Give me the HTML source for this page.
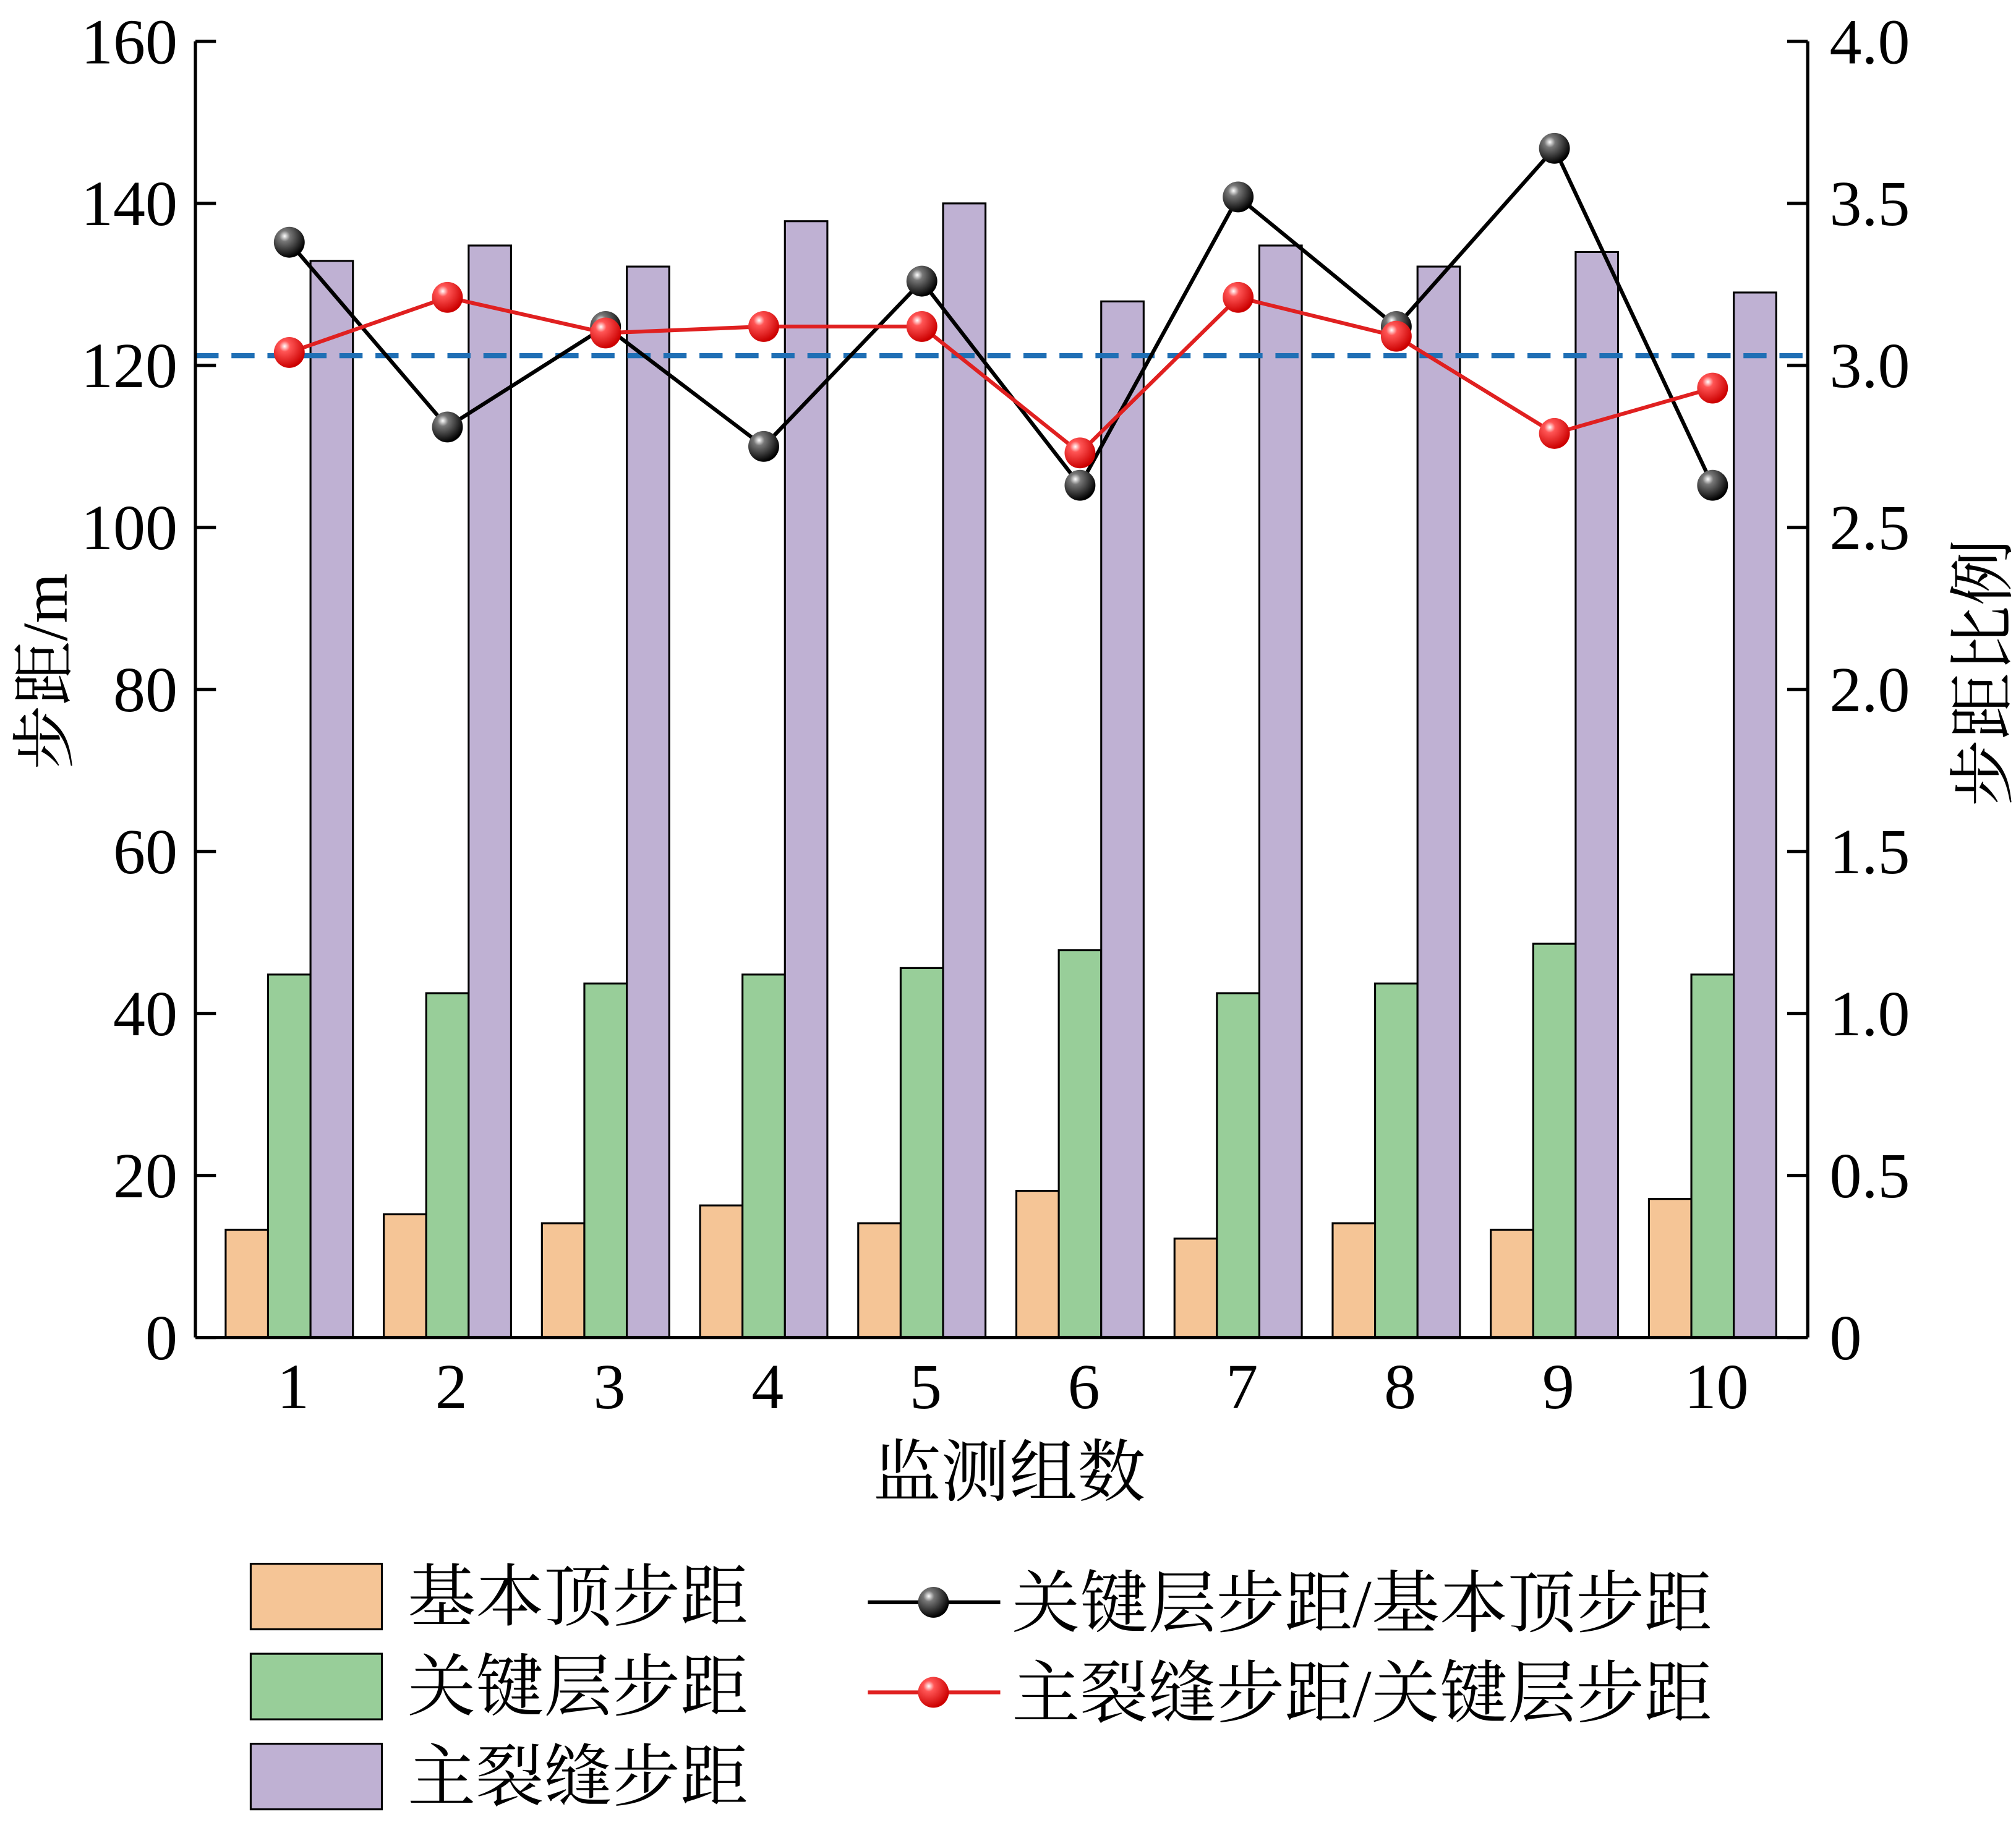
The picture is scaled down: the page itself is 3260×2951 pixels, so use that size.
<!DOCTYPE html>
<html><head><meta charset="utf-8"><style>
html,body{margin:0;padding:0;background:#fff}
svg{display:block}
text{font-family:"Liberation Serif","Noto Serif CJK SC",serif;fill:#000}
.cjk{font-family:"Liberation Serif","Noto Serif CJK SC","Noto Sans CJK SC",serif}
</style></head><body>
<svg id="chart" width="3260" height="2951" viewBox="0 0 1568 1419" xmlns="http://www.w3.org/2000/svg">
<defs>
<radialGradient id="gBlack" cx="0.35" cy="0.3" r="0.7"><stop offset="0" stop-color="#fff"/><stop offset="0.25" stop-color="#777"/><stop offset="1" stop-color="#000"/></radialGradient>
<radialGradient id="gRed" cx="0.35" cy="0.3" r="0.7"><stop offset="0" stop-color="#fff"/><stop offset="0.25" stop-color="#f55"/><stop offset="1" stop-color="#c00"/></radialGradient>
</defs>
<g id="plot"></g>
</svg>
<script>
const categories=["1","2","3","4","5","6","7","8","9","10"];
const basicRoof=[13.3,15.2,14.1,16.3,14.1,18.1,12.2,14.1,13.3,17.1];
const keyLayer=[44.8,42.5,43.7,44.8,45.6,47.8,42.5,43.7,48.6,44.8];
const mainCrack=[132.9,134.8,132.2,137.8,140,127.9,134.8,132.2,134,129];
const ratioKeyBasic=[3.38,2.81,3.12,2.75,3.26,2.63,3.52,3.12,3.67,2.63];
const ratioCrackKey=[3.04,3.21,3.10,3.12,3.12,2.73,3.21,3.09,2.79,2.93];
const refLine=3.03;
const leftTicks=[0,20,40,60,80,100,120,140,160];
const rightTicks=["0","0.5","1.0","1.5","2.0","2.5","3.0","3.5","4.0"];

const NS="http://www.w3.org/2000/svg";
const g=document.getElementById('plot');
const L=152,R=1406,T=32,B=1040;
const yL=v=>B-(B-T)*v/160;
const yR=v=>B-(B-T)*v/4;
const xC=i=>225+123*i;
function mk(tag,attrs,parent){const e=document.createElementNS(NS,tag);for(const k in attrs)e.setAttribute(k,attrs[k]);(parent||g).appendChild(e);return e;}
function txt(s,attrs){const e=mk('text',attrs);e.textContent=s;return e;}

const bw=33;
const series=[[basicRoof,'#f5c596',-1.5,'bar-basic-roof'],[keyLayer,'#98ce99',-0.5,'bar-key-layer'],[mainCrack,'#bfb1d3',0.5,'bar-main-crack']];
series.forEach(([arr,col,off,nm])=>{
  arr.forEach((v,i)=>{
    const r=mk('rect',{x:xC(i)+off*bw,y:yL(v),width:bw,height:B-yL(v),fill:col,stroke:'#000','stroke-width':1.5});
    
    
  });
});
const rl=mk('line',{x1:L,x2:R,y1:yR(refLine),y2:yR(refLine),stroke:'#1f6fb5','stroke-width':4,'stroke-dasharray':'18,10'});


function lineSeries(arr,col,grad,nm){
  const p=mk('polyline',{points:arr.map((v,i)=>xC(i)+','+yR(v)).join(' '),fill:'none',stroke:col,'stroke-width':3});
  
  
  arr.forEach((v,i)=>{
    const c=mk('circle',{cx:xC(i),cy:yR(v),r:12,fill:'url(#'+grad+')'});
    
    
  });
}
lineSeries(ratioKeyBasic,'#000','gBlack','ratio-key-basic');
lineSeries(ratioCrackKey,'#e02020','gRed','ratio-crack-key');

mk('line',{x1:L,x2:L,y1:T,y2:B,stroke:'#000','stroke-width':2.5});
mk('line',{x1:R,x2:R,y1:T,y2:B,stroke:'#000','stroke-width':2.5});
mk('line',{x1:L,x2:R,y1:B,y2:B,stroke:'#000','stroke-width':2.5});
leftTicks.forEach(v=>{
  mk('line',{x1:L,x2:L+16,y1:yL(v),y2:yL(v),stroke:'#000','stroke-width':2.5});
  const t=txt(String(v),{x:L-14,y:yL(v)+17,'font-size':50,'text-anchor':'end'});
  
  
});
rightTicks.forEach((s,i)=>{
  const y=yR(i*0.5);
  mk('line',{x1:R-16,x2:R,y1:y,y2:y,stroke:'#000','stroke-width':2.5});
  const t=txt(s,{x:R+17,y:y+17,'font-size':50,'text-anchor':'start'});
  
  
});
categories.forEach((c,i)=>{
  const t=txt(c,{x:xC(i)+3,y:B+55,'font-size':50,'text-anchor':'middle'});
  
  
});
let t=txt('步距/m',{x:0,y:0,'font-size':50,'text-anchor':'middle',class:'cjk',transform:'translate(52,522) rotate(-90)'});

t=txt('步距比例',{x:0,y:0,'font-size':52,'text-anchor':'middle',class:'cjk',transform:'translate(1560,523) rotate(-90)'});

t=txt('监测组数',{x:785,y:1163,'font-size':53,'text-anchor':'middle',class:'cjk'});


const legBars=[['基本顶步距','#f5c596',1216],['关键层步距','#98ce99',1286],['主裂缝步距','#bfb1d3',1356]];
legBars.forEach(([s,col,y])=>{
  const r=mk('rect',{x:195,y:y,width:102,height:51,fill:col,stroke:'#000','stroke-width':1.5});
  
  const e=txt(s,{x:317,y:y+44,'font-size':53,class:'cjk'});
  
});
const legLines=[['关键层步距/基本顶步距','#000','gBlack',1246],['主裂缝步距/关键层步距','#e02020','gRed',1316]];
legLines.forEach(([s,col,gr,y])=>{
  const l=mk('line',{x1:675,x2:778,y1:y,y2:y,stroke:col,'stroke-width':3});
  
  const c=mk('circle',{cx:726,cy:y,r:12,fill:'url(#'+gr+')'});
  
  const e=txt(s,{x:787,y:y+19,'font-size':53,class:'cjk'});
  
});
</script>
</body></html>
